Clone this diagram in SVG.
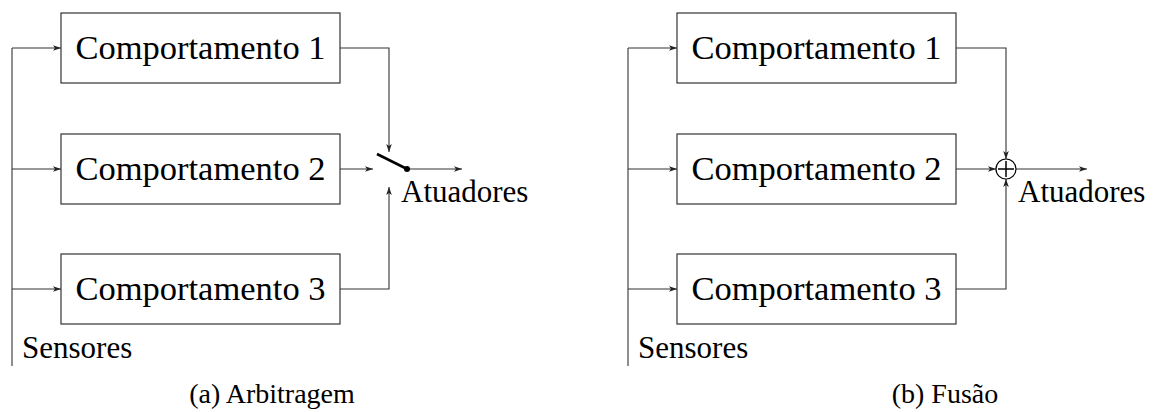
<svg xmlns="http://www.w3.org/2000/svg" width="1157" height="412" viewBox="0 0 1157 412">
<defs>
<marker id="ah" viewBox="0 0 10 10" refX="10" refY="5" markerWidth="8" markerHeight="8" markerUnits="userSpaceOnUse" orient="auto">
<path d="M0,1.5 L10,5 L0,8.5 L2.5,5 Z" fill="#222"/>
</marker>
</defs>
<rect width="1157" height="412" fill="#fff"/>
<g id="connectors" fill="none" stroke="#333" stroke-width="1.1">
<path d="M12,48 V366"/>
<path d="M12,48 H61" marker-end="url(#ah)"/>
<path d="M12,169 H61" marker-end="url(#ah)"/>
<path d="M12,289 H61" marker-end="url(#ah)"/>
<path d="M340,48 H389 V152" marker-end="url(#ah)"/>
<path d="M340,289 H389 V187" marker-end="url(#ah)"/>
<path d="M340,169 H373" marker-end="url(#ah)"/>
<path d="M407,169 H462" marker-end="url(#ah)"/>
<path d="M628,48 V366"/>
<path d="M628,48 H677" marker-end="url(#ah)"/>
<path d="M628,169 H677" marker-end="url(#ah)"/>
<path d="M628,289 H677" marker-end="url(#ah)"/>
<path d="M956,48 H1006 V159" marker-end="url(#ah)"/>
<path d="M956,289 H1006 V179" marker-end="url(#ah)"/>
<path d="M956,169 H996" marker-end="url(#ah)"/>
<path d="M1016,169 H1087" marker-end="url(#ah)"/>
</g>
<g id="switch">
<line x1="377" y1="154" x2="407" y2="169" stroke="#000" stroke-width="2.6"/>
<circle cx="407" cy="169" r="3" fill="#000"/>
</g>
<g id="sum">
<circle cx="1006" cy="169" r="10" fill="#fff" stroke="#000" stroke-width="1.2"/>
<path d="M1006,161 V177 M998,169 H1014" stroke="#000" stroke-width="1.5" fill="none"/>
</g>
<g fill="#fff" stroke="#333" stroke-width="1.2">
<rect id="a-b1-box" x="61" y="13" width="279" height="70"/>
<rect id="a-b2-box" x="61" y="134" width="279" height="70"/>
<rect id="a-b3-box" x="61" y="254" width="279" height="70"/>
<rect id="b-b1-box" x="677" y="13" width="279" height="70"/>
<rect id="b-b2-box" x="677" y="134" width="279" height="70"/>
<rect id="b-b3-box" x="677" y="254" width="279" height="70"/>
</g>
<g id="a-b1"><text font-family="Liberation Serif" font-size="34.5" text-anchor="middle" x="200.5" y="59">Comportamento 1</text></g>
<g id="a-b2"><text font-family="Liberation Serif" font-size="34.5" text-anchor="middle" x="200.5" y="180">Comportamento 2</text></g>
<g id="a-b3"><text font-family="Liberation Serif" font-size="34.5" text-anchor="middle" x="200.5" y="300">Comportamento 3</text></g>
<g id="b-b1"><text font-family="Liberation Serif" font-size="34.5" text-anchor="middle" x="816.5" y="59">Comportamento 1</text></g>
<g id="b-b2"><text font-family="Liberation Serif" font-size="34.5" text-anchor="middle" x="816.5" y="180">Comportamento 2</text></g>
<g id="b-b3"><text font-family="Liberation Serif" font-size="34.5" text-anchor="middle" x="816.5" y="300">Comportamento 3</text></g>
<g id="labels">
<text font-family="Liberation Serif" font-size="31" x="401" y="202">Atuadores</text>
<text font-family="Liberation Serif" font-size="31" x="1018" y="202">Atuadores</text>
<text font-family="Liberation Serif" font-size="31" x="22" y="358">Sensores</text>
<text font-family="Liberation Serif" font-size="31" x="638" y="358">Sensores</text>
<text font-family="Liberation Serif" font-size="28" text-anchor="middle" x="272" y="403">(a) Arbitragem</text>
<text font-family="Liberation Serif" font-size="28" text-anchor="middle" x="945" y="403">(b) Fusão</text>
</g>
</svg>
